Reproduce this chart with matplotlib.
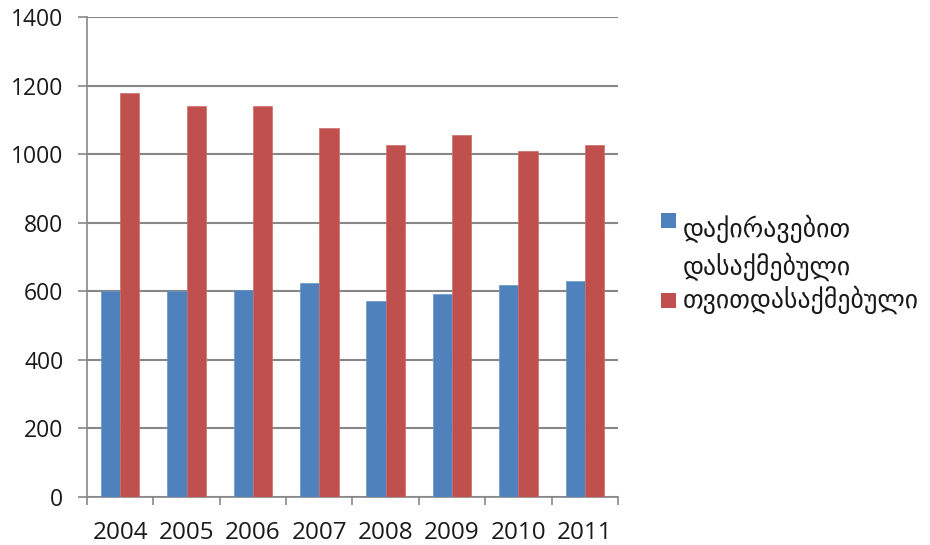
import matplotlib
matplotlib.use("Agg")
import matplotlib.pyplot as plt
import numpy as np
from matplotlib.patches import Rectangle

# Employment figures (thousands), 2004-2011
years = ["2004", "2005", "2006", "2007", "2008", "2009", "2010", "2011"]
hired = [600, 600, 605, 624, 571, 593, 619, 630]
self_employed = [1179, 1142, 1142, 1078, 1027, 1056, 1009, 1027]
hired_label = ["დაქირავებით", "დასაქმებული"]
self_label = ["თვითდასაქმებული"]
y_ticks = [0, 200, 400, 600, 800, 1000, 1200, 1400]

blue = "#4F81BD"
red = "#C0504D"
grid_col = "#878787"
text_col = "#1a1a1a"

W, H = 930, 545
fig = plt.figure(figsize=(W / 100, H / 100), dpi=100)
ax = fig.add_axes([0.0935, 0.0881, 0.571, 0.8798])

x = np.arange(len(years))
w = 0.29
ax.bar(x - w / 2, hired, width=w, color=blue, edgecolor="#6a95c8", linewidth=0.5, zorder=3)
ax.bar(x + w / 2, self_employed, width=w, color=red, edgecolor="#cd6e6b", linewidth=0.5, zorder=3)

ax.set_xlim(-0.5, len(years) - 0.5)
ax.set_ylim(0, 1400)
ax.set_yticks(y_ticks)
ax.set_yticklabels([str(v) for v in y_ticks])
ax.yaxis.grid(True, color=grid_col, linewidth=1.5, zorder=0)

ax.set_xticks(x)
ax.set_xticklabels(years)
ax.set_xticks(np.arange(len(years) + 1) - 0.5, minor=True)

for s in ["top", "right"]:
    ax.spines[s].set_visible(False)
for s in ["left", "bottom"]:
    ax.spines[s].set_color(grid_col)
    ax.spines[s].set_linewidth(1.2)

ax.tick_params(axis="y", direction="out", length=6.5, width=1.2, color=grid_col,
               pad=10.5, labelsize=16.5, labelcolor=text_col)
ax.tick_params(axis="x", which="major", length=0, pad=17, labelsize=17.5, labelcolor=text_col)
ax.tick_params(axis="x", which="minor", direction="out", length=6, width=1.2, color=grid_col)
for lab in ax.get_xticklabels() + ax.get_yticklabels():
    lab.set_fontfamily(["Open Sans", "DejaVu Sans"])

# Legend: colour keys with Georgian labels, placed in pixel coordinates
def fx(px):
    return px / W

def fy(py):
    return 1 - py / H

legend_font = dict(family="DejaVu Sans", size=18.5, color=text_col)
fig.patches.append(Rectangle((fx(660.5), fy(227.5)), 15 / W, 14.5 / H,
                             transform=fig.transFigure, facecolor=blue, edgecolor="none"))
fig.patches.append(Rectangle((fx(660.5), fy(307.5)), 15 / W, 14.5 / H,
                             transform=fig.transFigure, facecolor=red, edgecolor="none"))
fig.text(fx(683), fy(237), hired_label[0], va="baseline", ha="left", **legend_font)
fig.text(fx(683), fy(275), hired_label[1], va="baseline", ha="left", **legend_font)
fig.text(fx(683), fy(308), self_label[0], va="baseline", ha="left", **legend_font)

fig.savefig("out.png", dpi=100)
